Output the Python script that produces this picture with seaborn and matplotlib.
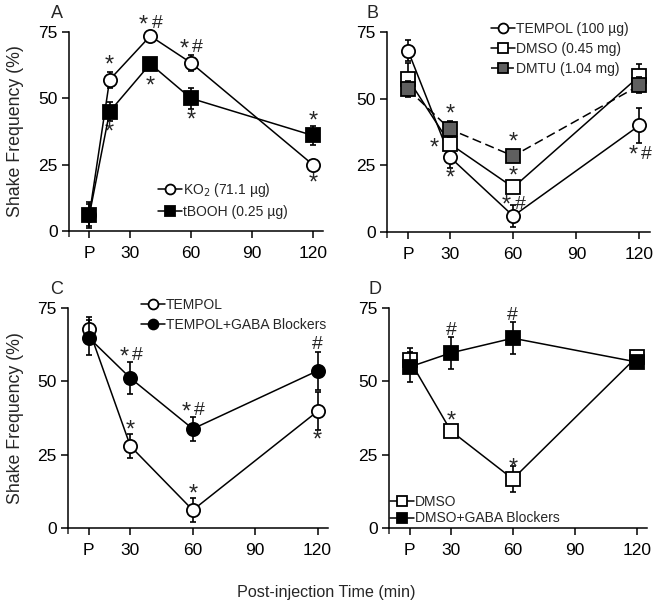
import numpy as np
import pandas as pd
import matplotlib
matplotlib.use('Agg')
import matplotlib.pyplot as plt
from matplotlib.transforms import offset_copy
import seaborn as sns

sns.set_style('ticks')
plt.rcParams['font.family'] = ['Liberation Sans', 'DejaVu Sans']

# ---- data ----
time_a = [10, 20, 40, 60, 120]
time_b = [10, 30, 60, 120]
tick_pos = [10, 30, 60, 90, 120]
tick_lab = ['P', '30', '60', '90', '120']

# panel A
ko2_mean = [6, 57, 73.5, 63.4, 25]
ko2_err = [4, 3, 2, 3, 1.5]
tbooh_mean = [6, 45, 63, 50, 36]
tbooh_err = [5, 3.5, 2, 4, 3.5]

# panel B
tempol_mean = [68, 28, 6, 40]
tempol_err = [4, 4, 4, 6.5]
dmso_mean = [57.4, 33, 16.7, 58.5]
dmso_err = [6, 2, 2, 4.5]
dmtu_mean = [53.5, 38.5, 28.5, 55]
dmtu_err = [3, 3, 1.5, 3]

# panel C
tempol_c_mean = [67.8, 27.9, 6.1, 39.8]
tempol_c_err = [4, 4, 4, 6.5]
tempol_gaba_mean = [64.9, 51.1, 33.8, 53.6]
tempol_gaba_err = [6, 5.5, 4, 6.5]

# panel D
dmso_d_mean = [57.2, 33.1, 16.7, 58.3]
dmso_d_err = [4, 1, 4.5, 1]
dmso_gaba_mean = [54.9, 59.7, 64.7, 56.6]
dmso_gaba_err = [5, 5.5, 5.5, 1]

# significance marks (x, y of glyph centre, text)
marks_a = [(20, 64, '*'), (20, 38.5, '*'), (40, 79, '* #'), (40, 56, '*'),
           (60, 70, '* #'), (60, 43, '*'), (120, 42.6, '*'), (120, 19.2, '*')]
marks_b = [(30, 45.7, '*'), (22.4, 32.6, '*'), (30, 21.4, '*'), (60, 35.1, '*'),
           (60, 22.2, '*'), (60, 11.4, '* #'), (120, 30.1, '* #')]
marks_c = [(30, 59.6, '* #'), (30, 34.5, '*'), (60, 40.8, '* #'), (60, 12.7, '*'),
           (120, 63.5, '#'), (120, 31.1, '*')]
marks_d = [(30, 68.3, '#'), (60, 73.4, '#'), (30, 37.8, '*'), (60, 21.7, '*')]

W, H = 657, 604
fig = plt.figure(figsize=(W / 100, H / 100), dpi=100)


def px_axes(left, right, top, bottom):
    return fig.add_axes([left / W, 1 - bottom / H, (right - left) / W, (bottom - top) / H])


ax_a = px_axes(69, 323, 32, 231)
ax_b = px_axes(387, 650, 32, 232)
ax_c = px_axes(68, 328, 308, 528)
ax_d = px_axes(389, 647, 308, 528)


def series(ax, x, y, err, label, marker, face, ls='-', z=3):
    df = pd.DataFrame({'t': x, 'v': y})
    ax.errorbar(x, y, yerr=err, fmt='none', ecolor='black', elinewidth=1.2,
                capsize=2.5, capthick=1.2, zorder=z - 0.5, clip_on=False)
    sns.lineplot(data=df, x='t', y='v', ax=ax, color='black', linestyle=ls, lw=1.1,
                 marker=marker, markersize=9.5, markerfacecolor=face,
                 markeredgecolor='black', markeredgewidth=1.3, label=label,
                 zorder=z, clip_on=False)


def draw_mark(ax, x, y, t):
    parts = t.split()
    offs = [0] if len(parts) == 1 else [-4.8, 4.8]
    for part, dx in zip(parts, offs):
        if part == '*':
            fs, dy = 17, -0.42 * 17
        else:
            fs, dy = 14, -0.36 * 14
        tr = offset_copy(ax.transData, fig=fig, x=dx, y=dy, units='points')
        ax.text(x, y, part, transform=tr, ha='center', va='baseline',
                fontsize=fs, clip_on=False)


def style_axis(ax, marks):
    ax.set_xlim(0, 125)
    ax.set_ylim(0, 75)
    ax.set_xticks(tick_pos)
    ax.set_xticklabels(tick_lab)
    ax.set_xticks([0], minor=True)
    ax.set_yticks([0, 25, 50, 75])
    ax.tick_params(axis='both', direction='out', length=5, width=1.1, labelsize=12.5,
                   color='black', labelcolor='black')
    ax.tick_params(axis='x', pad=6)
    ax.tick_params(axis='y', pad=3)
    ax.tick_params(axis='x', which='minor', length=4, width=1.1)
    ax.set_xlabel('')
    ax.set_ylabel('')
    sns.despine(ax=ax)
    for s in ['left', 'bottom']:
        ax.spines[s].set_linewidth(1.1)
        ax.spines[s].set_color('black')
    for x, y, t in marks:
        draw_mark(ax, x, y, t)


# A
series(ax_a, time_a, ko2_mean, ko2_err, 'KO$_2$ (71.1 µg)', 'o', 'white')
series(ax_a, time_a, tbooh_mean, tbooh_err, 'tBOOH (0.25 µg)', 's', 'black', z=4)
style_axis(ax_a, marks_a)

# B
series(ax_b, time_b, tempol_mean, tempol_err, 'TEMPOL (100 µg)', 'o', 'white')
series(ax_b, time_b, dmso_mean, dmso_err, 'DMSO (0.45 mg)', 's', 'white')
series(ax_b, time_b, dmtu_mean, dmtu_err, 'DMTU (1.04 mg)', 's', '#5f5f5f', ls=(0, (6, 3)), z=4)
style_axis(ax_b, marks_b)

# C
series(ax_c, time_b, tempol_c_mean, tempol_c_err, 'TEMPOL', 'o', 'white')
series(ax_c, time_b, tempol_gaba_mean, tempol_gaba_err, 'TEMPOL+GABA Blockers', 'o', 'black', z=4)
style_axis(ax_c, marks_c)

# D
series(ax_d, time_b, dmso_d_mean, dmso_d_err, 'DMSO', 's', 'white')
series(ax_d, time_b, dmso_gaba_mean, dmso_gaba_err, 'DMSO+GABA Blockers', 's', 'black', z=4)
style_axis(ax_d, marks_d)

leg_kw = dict(frameon=False, fontsize=10, handlelength=1.7, handletextpad=0.1,
              borderpad=0, borderaxespad=0, bbox_transform=fig.transFigure,
              loc='center left', markerscale=0.75)
ax_a.legend(bbox_to_anchor=(158 / W, 1 - 200 / H), labelspacing=0.45, **leg_kw)
ax_b.legend(bbox_to_anchor=(491 / W, 1 - 49 / H), labelspacing=0.45, **leg_kw)
ax_c.legend(bbox_to_anchor=(141 / W, 1 - 315 / H), labelspacing=0.45, **leg_kw)
ax_d.legend(bbox_to_anchor=(390 / W, 1 - 510 / H), labelspacing=0.2, **leg_kw)

# panel letters and shared labels
for lab, x, y in [('A', 57, 13), ('B', 373, 13), ('C', 57, 290), ('D', 375, 290)]:
    fig.text(x / W, 1 - y / H, lab, ha='center', va='center', fontsize=13)
fig.text(16 / W, 1 - 131 / H, 'Shake Frequency (%)', rotation=90, ha='center', va='center', fontsize=12.8)
fig.text(16 / W, 1 - 418 / H, 'Shake Frequency (%)', rotation=90, ha='center', va='center', fontsize=12.8)
fig.text(326 / W, 1 - 592 / H, 'Post-injection Time (min)', ha='center', va='center', fontsize=11.6)

fig.savefig('out.png', dpi=100)
